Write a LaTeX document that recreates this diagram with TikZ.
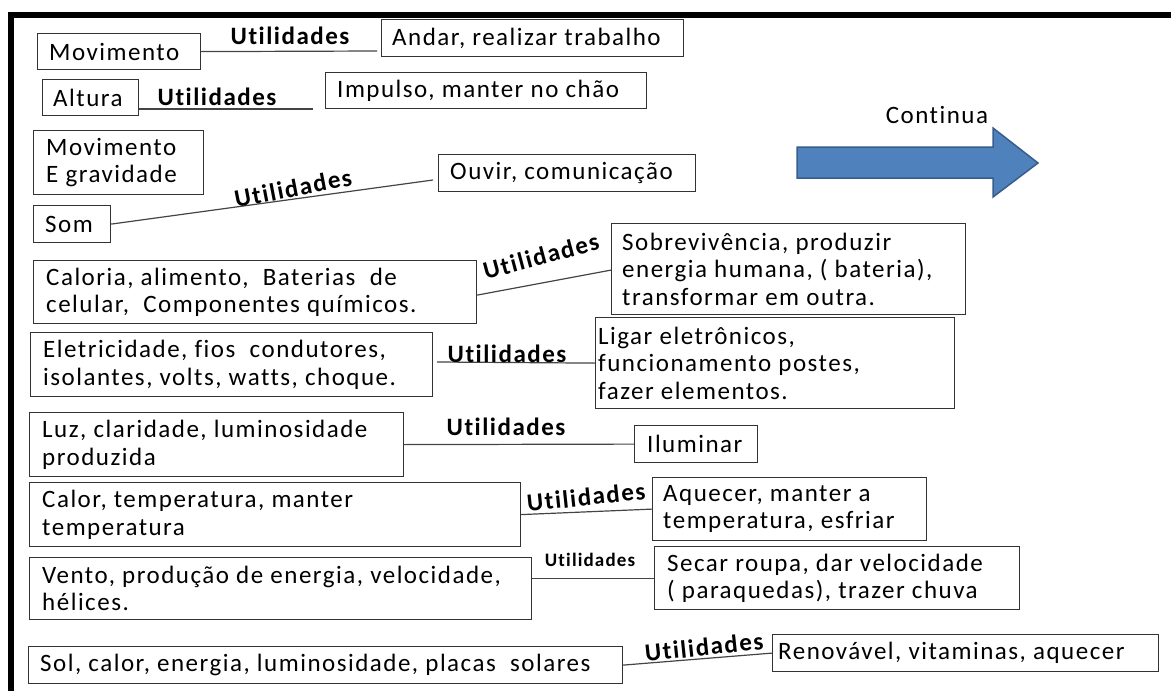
\documentclass[tikz,border=0pt]{standalone}
\usepackage{fontspec}
\setmainfont{Carlito}[LetterSpace=6, Ligatures={NoCommon}]
\definecolor{boxgray}{HTML}{333333}
\definecolor{linegray}{HTML}{444444}
\definecolor{arrowfill}{HTML}{4F81BD}
\definecolor{arrowdraw}{HTML}{385D8A}
\begin{document}
\begin{tikzpicture}[x=1pt,y=-1pt,
  box/.style={draw=boxgray, line width=1.2pt, anchor=north west, inner sep=0pt},
  txt/.style={anchor=west, inner sep=0pt, align=left, font=\fontsize{25}{27.5}\selectfont},
  util/.style={inner sep=0pt, font=\fontsize{25}{27.5}\selectfont\bfseries},
  conn/.style={draw=linegray, line width=1.2pt}
]
\useasboundingbox (0,0) rectangle (1171,691);
% frame
\draw[line width=6pt, line join=miter] (11,691) -- (11,15) -- (1171,15);

% boxes
\node[box, minimum width=163, minimum height=36] (mov) at (37,33) {};
\node[box, minimum width=302, minimum height=37] (andar) at (381,19) {};
\node[box, minimum width=96, minimum height=36] (alt) at (42,79) {};
\node[box, minimum width=321, minimum height=36] (imp) at (325,72) {};
\node[box, minimum width=170, minimum height=64] (movg) at (33,130) {};
\node[box, minimum width=77, minimum height=37] (som) at (33,205) {};
\node[box, minimum width=257, minimum height=37] (ouv) at (438,154) {};
\node[box, minimum width=443, minimum height=63] (cal) at (33,260) {};
\node[box, minimum width=354, minimum height=91] (sob) at (611,223) {};
\node[box, minimum width=402, minimum height=64] (ele) at (30,332) {};
\node[box, minimum width=359, minimum height=91] (lig) at (595,317) {};
\node[box, minimum width=374, minimum height=64] (luz) at (29,412) {};
\node[box, minimum width=123, minimum height=37] (ilu) at (634,425) {};
\node[box, minimum width=491, minimum height=64] (calr) at (29,482) {};
\node[box, minimum width=274, minimum height=63] (aq) at (652,477) {};
\node[box, minimum width=502, minimum height=62] (ven) at (29,557) {};
\node[box, minimum width=365, minimum height=63] (sec) at (654,546) {};
\node[box, minimum width=594, minimum height=37] (sol) at (28,646) {};
\node[box, minimum width=386, minimum height=37] (ren) at (772,634) {};

% texts
\node[txt] (movT) at ([xshift=12pt]mov.west) {Movimento};
\node[txt] (andarT) at ([xshift=11pt]andar.west) {Andar, realizar trabalho};
\node[txt] (altT) at ([xshift=11pt]alt.west) {Altura};
\node[txt] (impT) at ([xshift=12pt]imp.west) {Impulso, manter no chão};
\node[txt] (movgT) at ([xshift=13pt]movg.west) {Movimento\\E gravidade};
\node[txt] (somT) at ([xshift=12pt]som.west) {Som};
\node[txt] (ouvT) at ([xshift=12pt]ouv.west) {Ouvir, comunicação};
\node[txt] (calT) at ([xshift=13pt]cal.west) {Caloria, alimento,\ \ Baterias\ \ de\\celular,\ \ Componentes químicos.};
\node[txt] (sobT) at ([xshift=11pt]sob.west) {Sobrevivência, produzir\\energia humana, ( bateria),\\transformar em outra.};
\node[txt] (eleT) at ([xshift=13pt]ele.west) {Eletricidade, fios\ \ condutores,\\isolantes, volts, watts, choque.};
\node[txt] (ligT) at ([xshift=3pt]lig.west) {Ligar eletrônicos,\\funcionamento postes,\\fazer elementos.};
\node[txt] (luzT) at ([xshift=13pt]luz.west) {Luz, claridade, luminosidade\\produzida};
\node[txt] (iluT) at ([xshift=13pt]ilu.west) {Iluminar};
\node[txt] (calrT) at ([xshift=13pt]calr.west) {Calor, temperatura, manter\\temperatura};
\node[txt] (aqT) at ([xshift=11pt]aq.west) {Aquecer, manter a\\temperatura, esfriar};
\node[txt] (venT) at ([xshift=13pt]ven.west) {Vento, produção de energia, velocidade,\\hélices.};
\node[txt] (secT) at ([xshift=13pt]sec.west) {Secar roupa, dar velocidade\\( paraquedas), trazer chuva};
\node[txt] (solT) at ([xshift=12pt]sol.west) {Sol, calor, energia, luminosidade, placas\ \ solares};
\node[txt] (renT) at ([xshift=6pt]ren.west) {Renovável, vitaminas, aquecer};

% connectors
\coordinate (andarIn) at (377,51);
\coordinate (altEnd) at (313,109);
\coordinate (ouvIn) at (433,180);
\coordinate (eleOut) at (437,362);
\draw[conn] (mov.east) -- (andarIn);
\draw[conn] (alt.east |- altEnd) -- (altEnd);
\draw[conn] (som.east) -- (ouvIn);
\draw[conn] ([yshift=-3pt]cal.east) -- ([yshift=-1pt]sob.west);
\draw[conn] (eleOut) -- (lig.west);
\draw[conn] (luz.east) -- (ilu.west);
\draw[conn] (calr.east) -- (aq.west);
\draw[conn] (ven.east |- sec.west) -- (sec.west);
\draw[conn] (sol.east) -- (ren.west);

% labels
\node[util] (u1) at (290,36) {Utilidades};
\node[util] (u2) at (217,97) {Utilidades};
\node[util, rotate=11] (u3) at (293,188) {Utilidades};
\node[util, rotate=15] (u4) at (541,256) {Utilidades};
\node[util] (u5) at (507,354) {Utilidades};
\node[util] (u6) at (506,427) {Utilidades};
\node[util, rotate=6] (u7) at (586,497) {Utilidades};
\node[util, font=\fontsize{19}{22}\selectfont\bfseries] (u8) at (590,560) {Utilidades};
\node[util, rotate=6] (u9) at (704,647) {Utilidades};

% continua arrow
\node[inner sep=0pt, font=\fontsize{25}{27.5}\selectfont] (cont) at (937,115) {Continua};
\draw[fill=arrowfill, draw=arrowdraw, line width=1.5pt, line join=miter]
  (797,147) -- (993,147) -- (993,128) -- (1038,163) -- (993,197) -- (993,178) -- (797,178) -- cycle;
\end{tikzpicture}
\end{document}
